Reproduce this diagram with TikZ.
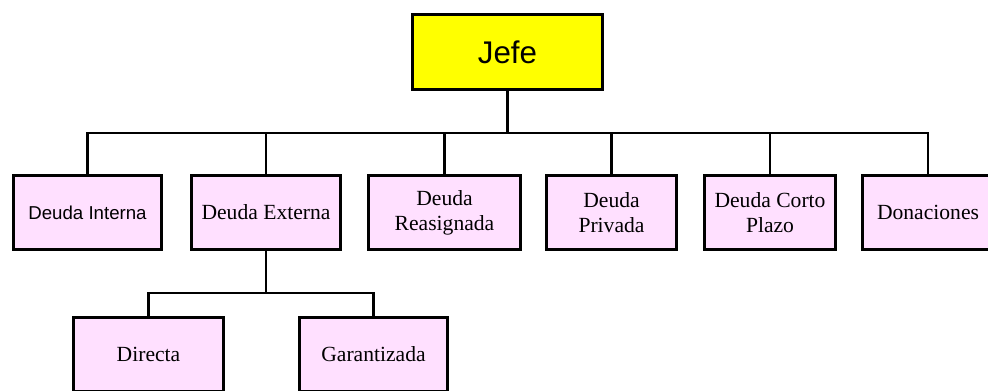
\documentclass[tikz,border=0pt]{standalone}
\usepackage{fontspec}
\setmainfont{Liberation Serif}
\newfontfamily\arialfont{Liberation Sans}
\definecolor{bosscol}{RGB}{255,255,0}
\definecolor{debtcol}{RGB}{255,224,255}
\newlength{\pxu}
\setlength{\pxu}{0.75pt}
\tikzset{
    boss/.style={draw, line width=2.2pt, fill=bosscol, inner sep=0pt,
        minimum width=190\pxu, minimum height=75\pxu, font=\arialfont\fontsize{23.5}{26}\selectfont},
    debt/.style={draw, line width=2.2pt, fill=debtcol, inner sep=0pt, align=center,
        minimum height=74\pxu, font=\fontsize{16.2}{19}\selectfont},
    link/.style={line width=2.1pt, line join=miter}
}
\begin{document}
\begin{tikzpicture}[x=0.75pt, y=-0.75pt]
    \useasboundingbox (0,0) rectangle (988,390);
    \clip (0,0) rectangle (988,390);
    % top level
    \node[boss] (jefe) at (507.5,52) {Jefe};
    % second level
    \node[debt, minimum width=148\pxu, font=\arialfont\fontsize{14}{17}\selectfont] (interna) at (87.5,212.5) {Deuda Interna};
    \node[debt, minimum width=149\pxu] (externa) at (266,212.5) {Deuda Externa};
    \node[debt, minimum width=152\pxu] (reasig) at (444.5,212.5) {Deuda\\Reasignada};
    \node[debt, minimum width=130\pxu] (privada) at (611.5,212.5) {Deuda\\Privada};
    \node[debt, minimum width=131\pxu] (corto) at (770,212.5) {Deuda Corto\\Plazo};
    \node[debt, minimum width=131\pxu] (donac) at (928,212.5) {Donaciones};
    % third level
    \node[debt, minimum width=150\pxu] (directa) at (148.5,354.5) {Directa};
    \node[debt, minimum width=148\pxu] (garant) at (373.5,354.5) {Garantizada};
    % connectors
    \draw[link] (jefe.south) -- ++(0,42) coordinate (bus);
    \foreach \n in {interna,externa,reasig,privada,corto,donac}
        \draw[link] (\n.north) |- (bus);
    \draw[link] (externa.south) -- ++(0,42) coordinate (subbus);
    \foreach \n in {directa,garant}
        \draw[link] (\n.north) |- (subbus);
\end{tikzpicture}
\end{document}
